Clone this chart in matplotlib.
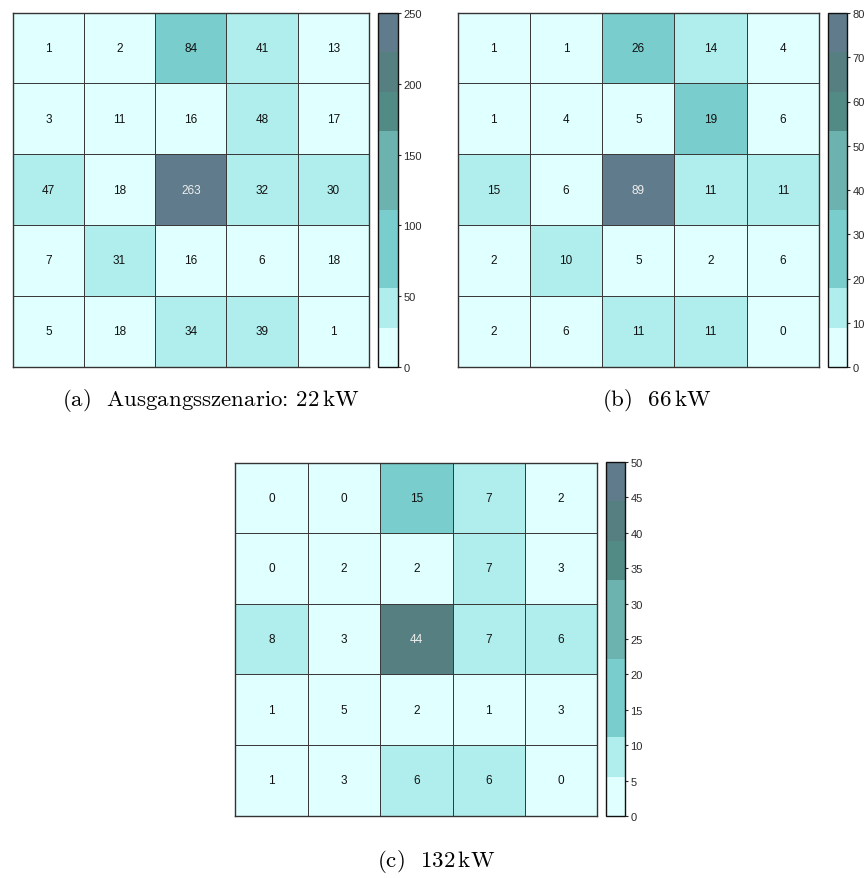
import numpy as np
import matplotlib
matplotlib.use("Agg")
import matplotlib.pyplot as plt
from matplotlib.colors import ListedColormap, BoundaryNorm

# Counts per grid cell (rows top to bottom)
counts_22 = [[1, 2, 84, 41, 13],
             [3, 11, 16, 48, 17],
             [47, 18, 263, 32, 30],
             [7, 31, 16, 6, 18],
             [5, 18, 34, 39, 1]]
counts_66 = [[1, 1, 26, 14, 4],
             [1, 4, 5, 19, 6],
             [15, 6, 89, 11, 11],
             [2, 10, 5, 2, 6],
             [2, 6, 11, 11, 0]]
counts_132 = [[0, 0, 15, 7, 2],
              [0, 2, 2, 7, 3],
              [8, 3, 44, 7, 6],
              [1, 5, 2, 1, 3],
              [1, 3, 6, 6, 0]]

vmax_values = [250, 80, 50]
tick_steps = [50, 10, 5]
captions = [r"(a)  Ausgangsszenario: 22$\,$kW", r"(b)  66$\,$kW", r"(c)  132$\,$kW"]

# nine equal colour steps
level_colors = ["#e0ffff", "#b0eeee", "#79cdcd", "#79cdcd", "#6cb3b0",
                "#6cb3b0", "#528a86", "#567f82", "#607b8b"]
cmap = ListedColormap(level_colors)
cmap.set_over(level_colors[-1])

plt.rcParams["font.family"] = ["Liberation Sans", "DejaVu Sans"]
plt.rcParams["mathtext.fontset"] = "cm"

W, H = 866, 879
fig = plt.figure(figsize=(W / 100, H / 100), dpi=100)


def px_rect(x0, y0, x1, y1):
    return [x0 / W, 1 - y1 / H, (x1 - x0) / W, (y1 - y0) / H]


panels = [
    (counts_22, px_rect(12.7, 13.5, 369, 367.5), px_rect(378, 14, 398, 368), (211, 401)),
    (counts_66, px_rect(457.7, 13.5, 819, 367.5), px_rect(828, 14, 847, 368), (657, 401)),
    (counts_132, px_rect(235.3, 463.5, 597.3, 816.7), px_rect(606, 463, 625, 817), (436, 862)),
]

for (data, ax_rect, cb_rect, cap_pos), vmax, step, cap in zip(panels, vmax_values, tick_steps, captions):
    arr = np.array(data)
    bounds = np.linspace(0, vmax, 10)
    norm = BoundaryNorm(bounds, cmap.N, extend="neither", clip=True)
    ax = fig.add_axes(ax_rect)
    mesh = ax.pcolormesh(arr, cmap=cmap, norm=norm, edgecolors="#3a3a3a", linewidth=0.5)
    ax.set_xlim(0, 5)
    ax.set_ylim(5, 0)
    ax.set_xticks([])
    ax.set_yticks([])
    for s in ax.spines.values():
        s.set_color("#333333")
        s.set_linewidth(1.0)
    for i in range(arr.shape[0]):
        for j in range(arr.shape[1]):
            v = arr[i, j]
            col = "#eeeeee" if v >= bounds[6] else "#111111"
            ax.text(j + 0.5, i + 0.5, str(v), ha="center", va="center",
                    fontsize=8.5, color=col)

    cax = fig.add_axes(cb_rect)
    cb = fig.colorbar(mesh, cax=cax, boundaries=bounds, ticks=np.arange(0, vmax + 1, step))
    cb.minorticks_off()
    cb.outline.set_edgecolor("#111111")
    cb.outline.set_linewidth(1.0)
    cax.tick_params(axis="y", length=2.5, width=0.8, pad=1.5, labelsize=8,
                    colors="#2a2a2a", direction="out")

    fig.text(cap_pos[0] / W, 1 - cap_pos[1] / H, cap, ha="center", va="center",
             fontsize=16.5, family="cmr10")

fig.savefig("out.png", dpi=100)
